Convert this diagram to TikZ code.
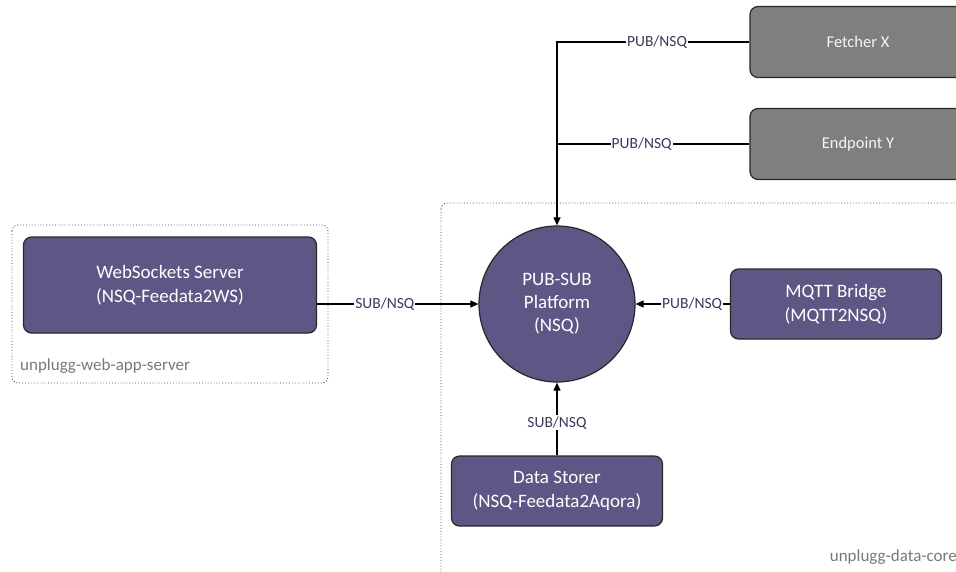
\documentclass[tikz,border=0pt]{standalone}
\usepackage{fontspec}
\setmainfont{Carlito}
\usetikzlibrary{arrows.meta,positioning}
\definecolor{boxpurple}{RGB}{96,86,133}
\definecolor{boxgray}{RGB}{127,127,127}
\definecolor{edgedark}{RGB}{40,40,40}
\definecolor{lbltext}{RGB}{60,55,90}
\definecolor{grptext}{RGB}{120,120,120}
\tikzset{
  procbox/.style={draw=edgedark, line width=1.2pt, rounded corners=8pt, fill=boxpurple, text=white,
    align=center, inner sep=0pt, font=\fontsize{19}{24}\selectfont},
  extbox/.style={draw=edgedark, line width=1.2pt, rounded corners=8pt, fill=boxgray, text=white!92!gray,
    align=center, inner sep=0pt, font=\fontsize{16.5}{20}\selectfont},
  hub/.style={draw=edgedark, line width=1.2pt, circle, fill=boxpurple, text=white, align=center,
    inner sep=0pt, minimum size=156pt, font=\fontsize{19}{23}\selectfont},
  grp/.style={draw=black!70, dotted, line width=0.9pt, rounded corners=6pt},
  grplabel/.style={text=grptext, inner sep=0pt, font=\fontsize{17}{20}\selectfont},
  conn/.style={draw=black, line width=1.1pt},
  arr/.style={conn, -{Triangle[length=8pt,width=7pt]}},
  lbl/.style={fill=white, text=lbltext, inner sep=1pt, font=\fontsize{15.5}{18}\selectfont}
}
\begin{document}
\begin{tikzpicture}[x=1pt,y=-1pt]
\useasboundingbox (0,0) rectangle (956,571);
\clip (0,0) rectangle (956,571);
% groups
\draw[grp] (12,225) rectangle (328,383);
\node[grplabel, anchor=west] (gwl) at (20,366) {unplugg-web-app-server};
\draw[grp] (441,203) rectangle (1000,620);
\node[grplabel, anchor=east] (gdl) at (957,557) {unplugg-data-core};
% nodes
\node[extbox, minimum width=216pt, minimum height=71pt] (fx) at (858,42) {Fetcher X};
\node[extbox, minimum width=216pt, minimum height=71pt] (ey) at (858,144) {Endpoint Y};
\node[hub] (c) at (557,304) {PUB-SUB\\Platform\\(NSQ)};
\node[procbox, minimum width=211pt, minimum height=70pt] (mq) at (836,304) {MQTT Bridge\\(MQTT2NSQ)};
\node[procbox, minimum width=211pt, minimum height=70pt] (ds) at (557,491) {Data Storer\\(NSQ-Feedata2Aqora)};
\node[procbox, minimum width=293pt, minimum height=96pt] (ws) at (170,285) {WebSockets Server\\(NSQ-Feedata2WS)};
% connectors
\draw[arr] (fx.west) -| node[lbl, pos=0.24] {PUB/NSQ} (c.north);
\draw[conn] (ey.west) -- node[lbl, pos=0.56] {PUB/NSQ} (ey.west -| c.north);
\draw[arr] (mq.west) -- node[lbl, pos=0.4] {PUB/NSQ} (c.east);
\draw[arr] (ds.north) -- node[lbl, pos=0.45] {SUB/NSQ} (c.south);
\coordinate (wsout) at (ws.east |- c.west);
\draw[arr] (wsout) -- node[lbl, pos=0.42] {SUB/NSQ} (c.west);
\end{tikzpicture}
\end{document}
